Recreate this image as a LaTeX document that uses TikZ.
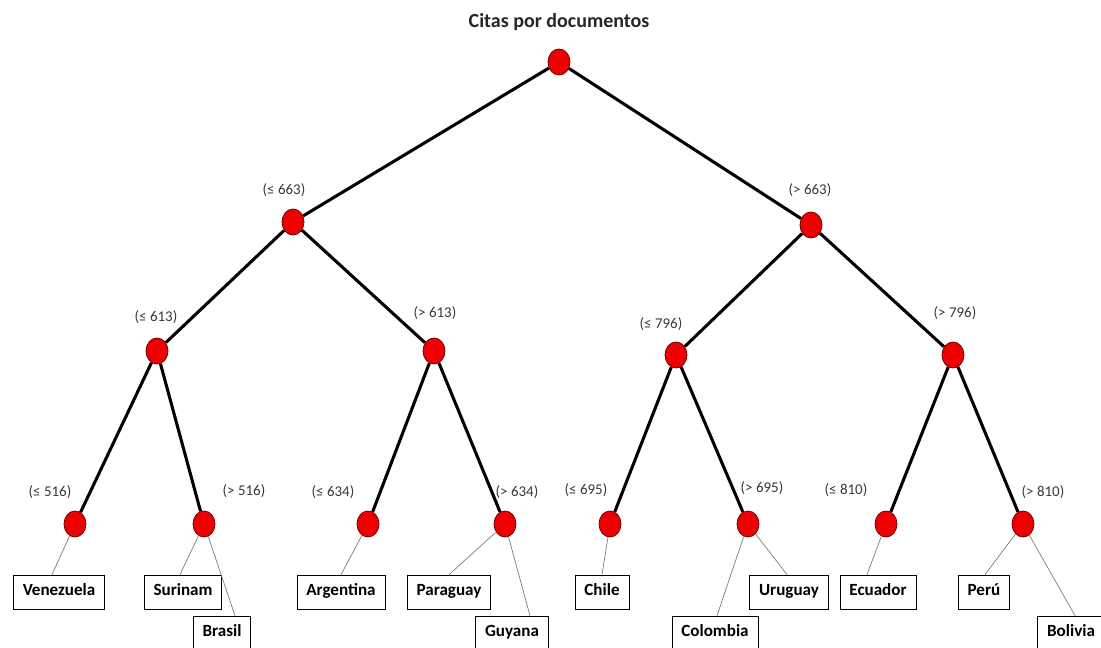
\documentclass[tikz,border=0pt]{standalone}
\usepackage{fontspec}
\setmainfont{Carlito}
\usetikzlibrary{calc,shapes.geometric}
\definecolor{knotcolor}{RGB}{238,0,0}
\definecolor{rimcolor}{RGB}{110,0,0}
\definecolor{thincolor}{RGB}{120,120,120}
\definecolor{condcolor}{RGB}{55,55,55}

\tikzset{
  splitnode/.style={ellipse,draw=rimcolor,fill=knotcolor,line width=0.6pt,
    minimum width=16.5pt,minimum height=19.5pt,inner sep=0pt},
  branch/.style={line width=2.3pt,black},
  twig/.style={line width=0.5pt,thincolor},
  cond/.style={font=\fontsize{11.2}{13}\selectfont,text=condcolor},
  leafbox/.style={draw,line width=0.6pt,font=\bfseries\fontsize{12.8}{14}\selectfont,
    text height=9pt,text depth=3pt,inner xsep=7pt,inner ysep=6.7pt}
}

\begin{document}
\begin{tikzpicture}[x=0.75pt,y=-0.75pt]
  \useasboundingbox (0,0) rectangle (1101,648);
  \node[font=\bfseries\fontsize{15}{17}\selectfont,text=black!85] (title) at (559,22) {Citas por documentos};

  % decision nodes
  \node[splitnode] (n) at (559,62) {};
  \node[splitnode] (n1) at (293,222) {};
  \node[splitnode] (n2) at (811,225) {};
  \node[splitnode] (n11) at (157,351) {};
  \node[splitnode] (n12) at (434,351) {};
  \node[splitnode] (n21) at (676,355) {};
  \node[splitnode] (n22) at (953,355) {};
  \node[splitnode] (n111) at (75,524) {};
  \node[splitnode] (n112) at (204,524) {};
  \node[splitnode] (n121) at (368,524) {};
  \node[splitnode] (n122) at (505,524) {};
  \node[splitnode] (n211) at (610,524) {};
  \node[splitnode] (n212) at (748,524) {};
  \node[splitnode] (n221) at (886,524) {};
  \node[splitnode] (n222) at (1023,524) {};

  \foreach \a/\b in {n/n1,n/n2,n1/n11,n1/n12,n2/n21,n2/n22,
      n11/n111,n11/n112,n12/n121,n12/n122,n21/n211,n21/n212,n22/n221,n22/n222}
    \draw[branch] (\a) -- (\b);

  % thresholds
  \node[cond] (c1) at (284,190) {(≤ 663)};
  \node[cond] (c2) at (810,190) {(> 663)};
  \node[cond] (c11) at (156,317) {(≤ 613)};
  \node[cond] (c12) at (435,313) {(> 613)};
  \node[cond] (c21) at (661,324) {(≤ 796)};
  \node[cond] (c22) at (955,313) {(> 796)};
  \node[cond] (c111) at (50,492) {(≤ 516)};
  \node[cond] (c112) at (244,491) {(> 516)};
  \node[cond] (c121) at (333,492) {(≤ 634)};
  \node[cond] (c122) at (517,492) {(> 634)};
  \node[cond] (c211) at (586,490) {(≤ 695)};
  \node[cond] (c212) at (762,488) {(> 695)};
  \node[cond] (c221) at (846,490) {(≤ 810)};
  \node[cond] (c222) at (1043,492) {(> 810)};

  % countries
  \node[leafbox] (venezuela) at (59,592) {Venezuela};
  \node[leafbox] (surinam) at (183,592) {Surinam};
  \node[leafbox] (brasil) at (222,633) {Brasil};
  \node[leafbox] (argentina) at (341,592) {Argentina};
  \node[leafbox] (paraguay) at (449,592) {Paraguay};
  \node[leafbox] (guyana) at (512,633) {Guyana};
  \node[leafbox] (chile) at (602,592) {Chile};
  \node[leafbox] (uruguay) at (789,592) {Uruguay};
  \node[leafbox] (colombia) at (715,633) {Colombia};
  \node[leafbox] (ecuador) at (878,592) {Ecuador};
  \node[leafbox] (peru) at (984,592) {Perú};
  \node[leafbox] (bolivia) at (1071,633) {Bolivia};

  \foreach \a/\b/\d in {n111/venezuela/-7,n112/surinam/-3,n112/brasil/13,
      n121/argentina/0,n122/paraguay/0,n122/guyana/18,n211/chile/0,
      n212/colombia/2,n212/uruguay/-2,n221/ecuador/-11,n222/peru/1,n222/bolivia/4}
    \draw[twig] (\a) -- ($(\b.north)+(\d,0)$);
\end{tikzpicture}
\end{document}
